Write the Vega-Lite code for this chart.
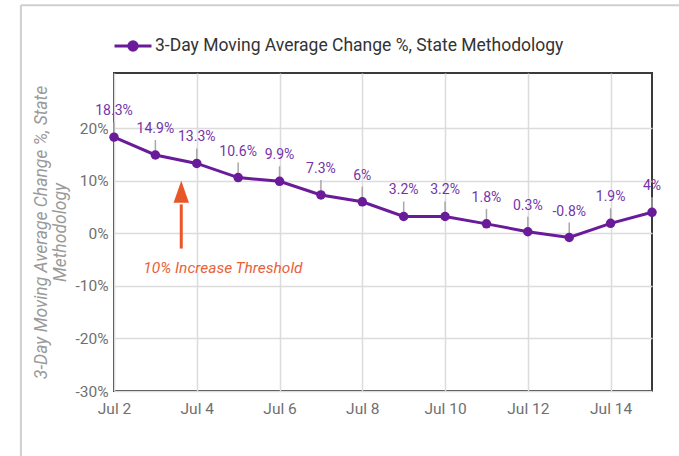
{
  "$schema": "https://vega.github.io/schema/vega-lite/v6.json",
  "autosize": "none",
  "padding": {"left": 114, "top": 73, "right": 27, "bottom": 65},
  "width": 538,
  "height": 318,
  "background": "white",
  "config": {
    "font": "Roboto",
    "view": {"stroke": "#3a3a3a", "strokeWidth": 2},
    "axis": {"domain": false, "ticks": false, "gridColor": "#dcdcdc", "gridWidth": 1.5, "labelColor": "#707070", "labelFontSize": 15.5, "labelFont": "Roboto", "labelFlush": false}
  },
  "datasets": {
    "main": [
      {"date": "2020-07-02T00:00:00", "value": 18.3, "label": "18.3%", "series": "3-Day Moving Average Change %, State Methodology"},
      {"date": "2020-07-03T00:00:00", "value": 14.9, "label": "14.9%", "series": "3-Day Moving Average Change %, State Methodology"},
      {"date": "2020-07-04T00:00:00", "value": 13.3, "label": "13.3%", "series": "3-Day Moving Average Change %, State Methodology"},
      {"date": "2020-07-05T00:00:00", "value": 10.6, "label": "10.6%", "series": "3-Day Moving Average Change %, State Methodology"},
      {"date": "2020-07-06T00:00:00", "value": 9.9, "label": "9.9%", "series": "3-Day Moving Average Change %, State Methodology"},
      {"date": "2020-07-07T00:00:00", "value": 7.3, "label": "7.3%", "series": "3-Day Moving Average Change %, State Methodology"},
      {"date": "2020-07-08T00:00:00", "value": 6, "label": "6%", "series": "3-Day Moving Average Change %, State Methodology"},
      {"date": "2020-07-09T00:00:00", "value": 3.2, "label": "3.2%", "series": "3-Day Moving Average Change %, State Methodology"},
      {"date": "2020-07-10T00:00:00", "value": 3.2, "label": "3.2%", "series": "3-Day Moving Average Change %, State Methodology"},
      {"date": "2020-07-11T00:00:00", "value": 1.8, "label": "1.8%", "series": "3-Day Moving Average Change %, State Methodology"},
      {"date": "2020-07-12T00:00:00", "value": 0.3, "label": "0.3%", "series": "3-Day Moving Average Change %, State Methodology"},
      {"date": "2020-07-13T00:00:00", "value": -0.8, "label": "-0.8%", "series": "3-Day Moving Average Change %, State Methodology"},
      {"date": "2020-07-14T00:00:00", "value": 1.9, "label": "1.9%", "series": "3-Day Moving Average Change %, State Methodology"},
      {"date": "2020-07-15T00:00:00", "value": 4, "label": "4%", "series": "3-Day Moving Average Change %, State Methodology"}
    ],
    "arrow": [
      {"date": "2020-07-03T15:00:00", "low": -2.9, "high": 5.5, "head": 7.9}
    ],
    "note": [
      {"date": "2020-07-02T17:00:00", "value": -6.6, "text": "10% Increase Threshold"}
    ],
    "frame": [
      {"x1": "2020-06-29T18:00:00", "x2": "2020-06-29T18:00:00", "y1": 43.4, "y2": -60},
      {"x1": "2020-06-29T18:00:00", "x2": "2020-07-18T00:00:00", "y1": 43.4, "y2": 43.4}
    ]
  },
  "encoding": {
    "x": {
      "field": "date", "type": "temporal", "title": null,
      "scale": {"domain": [{"year": 2020, "month": 7, "date": 2}, {"year": 2020, "month": 7, "date": 15}]},
      "axis": {
        "format": "%b %-d", "labelPadding": 10,
        "values": [{"year": 2020, "month": 7, "date": 2}, {"year": 2020, "month": 7, "date": 4}, {"year": 2020, "month": 7, "date": 6}, {"year": 2020, "month": 7, "date": 8}, {"year": 2020, "month": 7, "date": 10}, {"year": 2020, "month": 7, "date": 12}, {"year": 2020, "month": 7, "date": 14}]
      }
    },
    "y": {
      "field": "value", "type": "quantitative",
      "scale": {"domain": [-30, 30.5], "nice": false},
      "axis": {
        "values": [-30, -20, -10, 0, 10, 20],
        "labelExpr": "datum.value + '%'",
        "labelPadding": 6,
        "title": ["3-Day Moving Average Change %, State", "Methodology"],
        "titleFontStyle": "italic", "titleFontWeight": "normal", "titleFontSize": 17.5, "titleColor": "#9a9a9a", "titleFont": "Roboto", "titlePadding": 5
      }
    }
  },
  "layer": [
    {
      "data": {"name": "frame"},
      "mark": {"type": "rule", "color": "#cfcfcf", "strokeWidth": 2, "clip": false},
      "encoding": {
        "x": {"field": "x1", "type": "temporal"},
        "x2": {"field": "x2"},
        "y": {"field": "y1", "type": "quantitative"},
        "y2": {"field": "y2"}
      }
    },
    {
      "data": {"name": "main"},
      "mark": {"type": "rule", "color": "#a8a8a8", "strokeWidth": 1.5, "y2Offset": -15},
      "encoding": {"y2": {"field": "value"}}
    },
    {
      "mark": {"type": "rule", "color": "#ef6a3a", "strokeWidth": 1.5, "strokeDash": [3, 2]},
      "encoding": {"y": {"datum": 10}, "x": {"datum": {"year": 2020, "month": 7, "date": 2}}, "x2": {"datum": {"year": 2020, "month": 7, "date": 15}}}
    },
    {
      "data": {"name": "main"},
      "mark": {"type": "line", "strokeWidth": 3, "point": {"size": 90, "filled": true, "opacity": 1}},
      "encoding": {
        "color": {
          "field": "series", "type": "nominal",
          "scale": {"range": ["#6a1b9a"]},
          "legend": {
            "title": null, "orient": "none", "legendX": 8, "legendY": -38,
            "labelFontSize": 17.5, "labelColor": "#333333", "labelFont": "Roboto", "labelLimit": 0,
            "symbolType": "M-2,0L2,0M0.45,0A0.45,0.45,0,1,1,-0.45,0A0.45,0.45,0,1,1,0.45,0Z",
            "symbolSize": 342, "symbolStrokeWidth": 3, "symbolFillColor": "#6a1b9a", "symbolStrokeColor": "#6a1b9a", "symbolOpacity": 1,
            "labelOffset": 11
          }
        }
      }
    },
    {
      "data": {"name": "main"},
      "mark": {"type": "text", "fontSize": 14, "color": "#7434a8", "dy": -26, "baseline": "middle", "font": "Roboto"},
      "encoding": {"text": {"field": "label"}}
    },
    {
      "data": {"name": "arrow"},
      "mark": {"type": "rule", "color": "#e8562a", "strokeWidth": 3},
      "encoding": {"y": {"field": "low", "type": "quantitative"}, "y2": {"field": "high"}}
    },
    {
      "data": {"name": "arrow"},
      "mark": {"type": "point", "shape": "M0,-1L0.7,1L-0.7,1Z", "filled": true, "color": "#e8562a", "size": 484, "opacity": 1},
      "encoding": {"y": {"field": "head", "type": "quantitative"}}
    },
    {
      "data": {"name": "note"},
      "mark": {"type": "text", "fontSize": 15.5, "fontStyle": "italic", "color": "#e8623a", "align": "left", "baseline": "middle", "font": "Roboto"},
      "encoding": {"text": {"field": "text"}}
    }
  ]
}
